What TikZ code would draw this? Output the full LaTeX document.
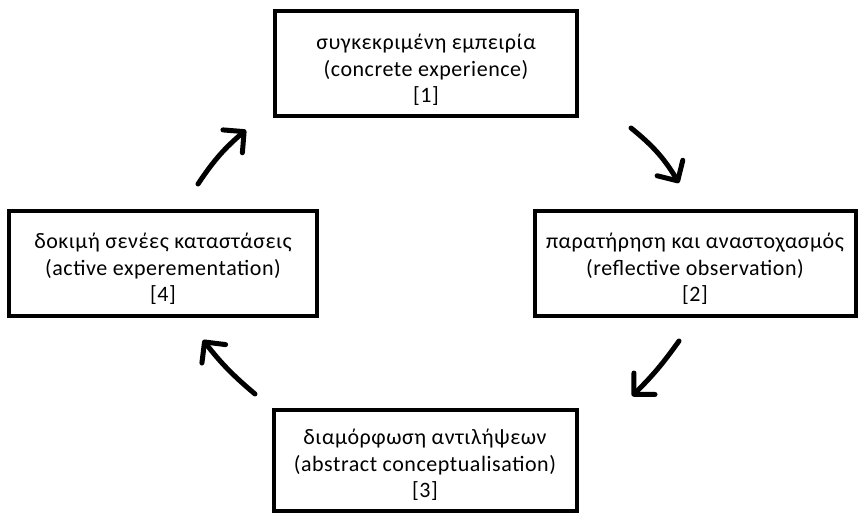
\documentclass[tikz,border=0pt]{standalone}
\usepackage{fontspec}
\setmainfont{Carlito}[LetterSpace=2.5]
\usetikzlibrary{arrows.meta}
\begin{document}
\begin{tikzpicture}[x=1pt,y=-1pt,
  stagebox/.style={draw=black,line width=4pt,fill=white,inner sep=0pt},
  stagetext/.style={align=center,font=\fontsize{22}{26.5}\selectfont,inner sep=0pt},
  cyc/.style={line width=5pt,line cap=round,
    -{Straight Barb[length=15pt,width=30pt,line width=5pt,round]}}]
\useasboundingbox (0,0) rectangle (859,516);
\node[stagebox,minimum width=302pt,minimum height=105pt] (s1) at (426,64) {};
\node[stagebox,minimum width=321pt,minimum height=105pt] (s2) at (695,263) {};
\node[stagebox,minimum width=303pt,minimum height=101pt] (s3) at (425,460) {};
\node[stagebox,minimum width=308pt,minimum height=105pt] (s4) at (163,263) {};
\node[stagetext] (t1) at ([yshift=-6pt]s1.center)
  {συγκεκριμένη εμπειρία\\(concrete experience)\\{}[1]};
\node[stagetext] (t2) at ([yshift=-6pt]s2.center)
  {παρατήρηση και αναστοχασμός\\(reflective observation)\\{}[2]};
\node[stagetext] (t3) at ([yshift=-5pt]s3.center)
  {διαμόρφωση αντιλήψεων\\(abstract conceptualisation)\\{}[3]};
\node[stagetext] (t4) at ([yshift=-6pt]s4.center)
  {δοκιμή σενέες καταστάσεις\\(active experementation)\\{}[4]};
\coordinate (a1s) at (198,184);
\coordinate (a1e) at (246,130);
\coordinate (a2s) at (631,128);
\coordinate (a2e) at (679,183);
\coordinate (a3s) at (679,341);
\coordinate (a3e) at (632,396);
\coordinate (a4s) at (255,394);
\coordinate (a4e) at (203,340);
\draw[cyc] (a1s) to[bend left=8] (a1e);
\draw[cyc] (a2s) to[bend left=10] (a2e);
\draw[cyc] (a3s) to[bend left=5] (a3e);
\draw[cyc] (a4s) to[bend left=6] (a4e);
\end{tikzpicture}
\end{document}
